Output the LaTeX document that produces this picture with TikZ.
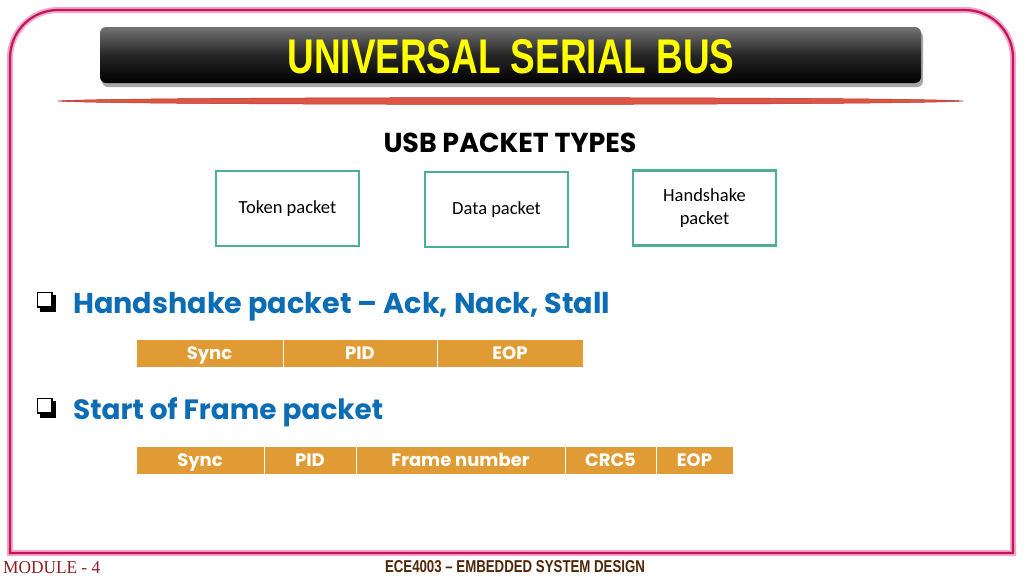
\documentclass[tikz,border=0pt]{standalone}
\usepackage{fontspec}
\setmainfont{Poppins}
\newfontfamily\calib{Carlito}
\newfontfamily\arialf{Liberation Sans}
\newfontfamily\timesf{Liberation Serif}
\usepackage{graphicx}
\definecolor{crimson}{HTML}{C0174E}
\definecolor{glow}{HTML}{F2A6D6}
\definecolor{lensred}{HTML}{DE5546}
\definecolor{lensdark}{HTML}{B0332A}
\definecolor{teal}{HTML}{4CAF95}
\definecolor{gold}{HTML}{E09B35}
\definecolor{bulletblue}{HTML}{0C6DB4}
\definecolor{modred}{HTML}{8E1E22}
\definecolor{ecebrown}{HTML}{4F2708}
\definecolor{titleyellow}{HTML}{FFFF00}
\tikzset{
  typebox/.style={draw=teal, line width=2.6pt, minimum width=143pt, minimum height=75pt, inner sep=0pt, font=\calib\fontsize{18.5}{23}\selectfont, align=center},
  cell/.style={fill=gold, draw=white, line width=1pt, minimum height=28pt, inner sep=0pt, text height=17pt, text depth=4pt, text=white, font=\bfseries\fontsize{18}{20}\selectfont},
  bullettext/.style={anchor=base west, inner sep=0pt, text=bulletblue, font=\bfseries},
}
\begin{document}
\begin{tikzpicture}[x=1pt,y=-1pt]
\useasboundingbox (0,0) rectangle (1024,576);
\fill[white] (0,0) rectangle (1024,576);
% outer frame
\draw[glow, line width=6pt] (1013,553) -- (10,553) -- (10,300) [rounded corners=48pt] -- (10,10) -- (1013,10) -- (1013,300) [sharp corners] -- (1013,553) -- cycle;
\draw[crimson, line width=2.2pt] (1013,553) -- (10,553) -- (10,300) [rounded corners=48pt] -- (10,10) -- (1013,10) -- (1013,300) [sharp corners] -- (1013,553) -- cycle;
% title bar
\fill[black!35, rounded corners=6pt] (102,31) rectangle (923,87);
\shade[top color=black!55, bottom color=black, middle color=black!85, rounded corners=6pt] (100,27) rectangle (921,83);
\node[inner sep=0pt, text=titleyellow] (title) at (511,57) {\resizebox{447pt}{34pt}{\arialf\bfseries UNIVERSAL SERIAL BUS}};
% red lens line
\filldraw[fill=lensred, draw=lensdark, line width=0.5pt] (58,101) .. controls (110,96.5) and (910,96.5) .. (963,101) .. controls (910,105.5) and (110,105.5) .. (58,101) -- cycle;
% subtitle
\node[inner sep=0pt] (types) at (510,142.5) {\resizebox{253pt}{19.5pt}{\bfseries USB PACKET TYPES}};
% packet type boxes
\node[typebox] (token) at (287.5,208.5) {Token packet};
\node[typebox] (data) at (496.5,209.5) {Data packet};
\node[typebox] (hand) at (704.5,208) {Handshake\\packet};
% bullets
\fill[black] (39.5,294.5) rectangle (55.5,311.5);
\draw[black, fill=white, line width=1.2pt] (37.5,292.5) rectangle (52,307);
\node[bullettext] (b1) at (73,313) {\resizebox{537pt}{!}{Handshake packet – Ack, Nack, Stall}};
\fill[black] (39.5,400.5) rectangle (55.5,417.5);
\draw[black, fill=white, line width=1.2pt] (37.5,398.5) rectangle (52,413);
\node[bullettext] (b2) at (73,419) {\resizebox{310pt}{!}{Start of Frame packet}};
% handshake packet table
\node[cell, minimum width=147pt] (h1) at (209.5,353) {Sync};
\node[cell, minimum width=154pt] (h2) at (360,353) {PID};
\node[cell, minimum width=146pt] (h3) at (510,353) {EOP};
% SOF table
\node[cell, minimum width=128pt] (s1) at (200,460) {Sync};
\node[cell, minimum width=92pt] (s2) at (310,460) {PID};
\node[cell, minimum width=209pt] (s3) at (460.5,460) {Frame number};
\node[cell, minimum width=91pt] (s4) at (610.5,460) {CRC5};
\node[cell, minimum width=77pt] (s5) at (694.5,460) {EOP};
% footer
\node[inner sep=0pt, anchor=base west, text=modred] (module) at (3,573) {\resizebox{97pt}{12pt}{\timesf MODULE - 4}};
\node[inner sep=0pt, anchor=base, text=ecebrown] (course) at (515,572) {\resizebox{260pt}{12pt}{\arialf\bfseries ECE4003 – EMBEDDED SYSTEM DESIGN}};
\end{tikzpicture}
\end{document}
